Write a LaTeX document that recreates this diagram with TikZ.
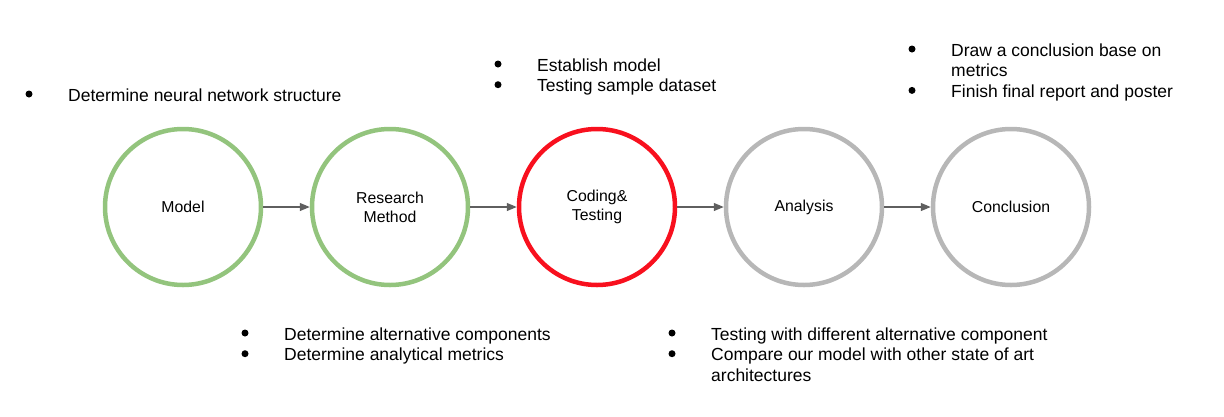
\documentclass[tikz,border=0pt]{standalone}
\usepackage{fontspec}
\setmainfont{Liberation Sans}
\usetikzlibrary{arrows.meta}
\definecolor{donegreen}{HTML}{93C47D}
\definecolor{nowred}{HTML}{F8101E}
\definecolor{todogray}{HTML}{B7B7B7}
\definecolor{arrowgray}{HTML}{5F5F5F}

\begin{document}
\begin{tikzpicture}[x=1pt,y=-1pt,
    phase/.style={circle,draw,line width=4.5pt,minimum size=156pt,inner sep=0pt,
      align=center,font=\fontsize{15.8}{19}\selectfont},
    tasks/.style={anchor=base west,inner sep=0pt,font=\fontsize{17.5}{20.7}\selectfont},
    flow/.style={arrowgray,line width=1.2pt,-{Triangle[length=10pt,width=8pt]}}]
  \useasboundingbox (0,0) rectangle (1224,416);
  % the five phases
  \node[phase,draw=donegreen] (model) at (183,207) {Model};
  \node[phase,draw=donegreen] (method) at (390,207) {Research\\Method};
  \node[phase,draw=nowred] (coding) at (597,207) {Coding\&\\Testing};
  \node[phase,draw=todogray] (analysis) at (804,207) {Analysis};
  \node[phase,draw=todogray] (conclusion) at (1011,207) {Conclusion};
  \draw[flow] (model) -- (method);
  \draw[flow] (method) -- (coding);
  \draw[flow] (coding) -- (analysis);
  \draw[flow] (analysis) -- (conclusion);
  % task lists
  \node[tasks] (modeltasks) at (68,101) {\begin{tabular}[t]{@{}l@{}}
    Determine neural network structure
  \end{tabular}};
  \node[tasks] (codingtasks) at (537,71) {\begin{tabular}[t]{@{}l@{}}
    Establish model\\
    Testing sample dataset
  \end{tabular}};
  \node[tasks] (conclusiontasks) at (951,56) {\begin{tabular}[t]{@{}l@{}}
    Draw a conclusion base on\\
    metrics\\
    Finish final report and poster
  \end{tabular}};
  \node[tasks] (methodtasks) at (284,340) {\begin{tabular}[t]{@{}l@{}}
    Determine alternative components\\
    Determine analytical metrics
  \end{tabular}};
  \node[tasks] (analysistasks) at (711,340) {\begin{tabular}[t]{@{}l@{}}
    Testing with different alternative component\\
    Compare our model with other state of art\\
    architectures
  \end{tabular}};
  % bullets
  \foreach \bx/\by in {29/94, 498/64, 498/84.7, 912/49, 912/90.4,
      245/333, 245/353.7, 672/333, 672/353.7}
    \fill (\bx,\by) circle (3.5pt);
\end{tikzpicture}
\end{document}
